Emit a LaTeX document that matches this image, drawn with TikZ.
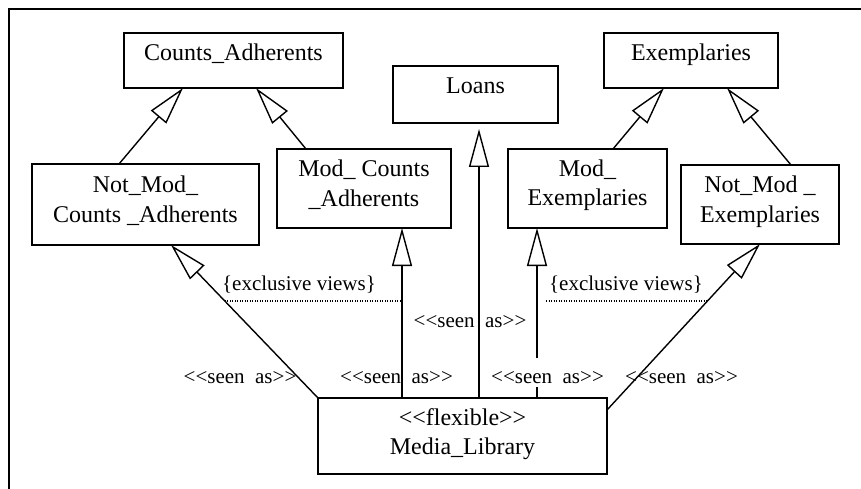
\documentclass[tikz,border=0pt]{standalone}
\usepackage{fontspec}
\setmainfont{Liberation Serif}
\usetikzlibrary{arrows.meta,calc}
% guillemet-like stereotype brackets built from < and > (kept apart so no ligature forms)
\newcommand\stereo[1]{\textless\kern0pt\textless#1\textgreater\kern0pt\textgreater}
\newcommand\twolines[2]{\begin{tabular}[t]{@{}c@{}}#1\\#2\end{tabular}}
\begin{document}
\begin{tikzpicture}[x=1pt,y=-1pt,
  classbox/.style={draw, line width=1.6pt, inner sep=0pt, outer sep=0pt},
  boxtext/.style={font=\fontsize{24}{29}\selectfont, anchor=base, inner sep=0pt},
  tag/.style={font=\fontsize{21}{25}\selectfont, anchor=base, inner sep=0pt},
  gen/.style={line width=1.4pt, -{Triangle[open,length=38pt,width=20pt]}},
  excl/.style={line width=1.3pt, dash pattern=on 1.1pt off 1.4pt}]
\useasboundingbox (0,0) rectangle (861,489);

% frame
\draw[line width=1.6pt] (9,489) -- (9,9) -- (861,9);

% classes
\node[classbox, minimum width=219pt, minimum height=55pt] (ca)    at (233.5,60.5) {};
\node[classbox, minimum width=165pt, minimum height=57pt] (loans) at (475.5,94.5) {};
\node[classbox, minimum width=174pt, minimum height=55pt] (ex)    at (691,60.5) {};
\node[classbox, minimum width=227pt, minimum height=81pt] (nmca)  at (145.5,204.5) {};
\node[classbox, minimum width=174pt, minimum height=79pt] (mca)   at (364,188.5) {};
\node[classbox, minimum width=159pt, minimum height=79pt] (mex)   at (587.5,188.5) {};
\node[classbox, minimum width=158pt, minimum height=79pt] (nmex)  at (760,204.5) {};
\node[classbox, minimum width=289pt, minimum height=76pt] (ml)    at (462.5,436) {};

% class names
\node[boxtext] (ca-t)    at (233.5,61)  {Counts\_Adherents};
\node[boxtext] (loans-t) at (475.5,94)  {Loans};
\node[boxtext] (ex-t)    at (691,61)    {Exemplaries};
\node[boxtext] (nmca-t)  at (145.5,193) {\twolines{Not\_Mod\_}{Counts \_Adherents}};
\node[boxtext] (mca-t)   at (364,177)   {\twolines{Mod\_ Counts}{\_Adherents}};
\node[boxtext] (mex-t)   at (587.5,176) {\twolines{Mod\_}{Exemplaries}};
\node[boxtext] (nmex-t)  at (760,193)   {\twolines{Not\_Mod \_}{Exemplaries}};
\node[boxtext] (ml-t)    at (462.5,425) {\twolines{\stereo{flexible}}{Media\_Library}};

% connector end points
\coordinate (s-mca)  at ([xshift=-60.5pt]ml.north);
\coordinate (s-loan) at ([xshift=16.5pt]ml.north);
\coordinate (s-mex)  at ([xshift=74.5pt]ml.north);
\coordinate (s-nmex) at ([yshift=-12pt]ml.north east);

% specialisations
\draw[gen] ([xshift=-26.5pt]nmca.north) -- ([xshift=-50.5pt]ca.south);
\draw[gen] ([xshift=-58pt]mca.north)    -- ([xshift=22.5pt]ca.south);
\draw[gen] ([xshift=25.5pt]mex.north)   -- ([xshift=-27pt]ex.south);
\draw[gen] ([xshift=31pt]nmex.north)    -- ([xshift=36pt]ex.south);

% views of the flexible class
\draw[gen] (ml.north west) -- coordinate[pos=0.634] (xl) ([xshift=25.5pt]nmca.south);
\draw[gen] (s-mca)  -- ([xshift=38pt]mca.south);
\draw[gen] (s-loan) -- ([xshift=3.5pt,yshift=-6pt]loans.south);
\draw[gen] (s-mex)  -- ([xshift=-50.5pt]mex.south);
\draw[gen] (s-nmex) -- coordinate[pos=0.657] (xr) (nmex.south);

% exclusive-view constraints
\draw[excl] (xl) -- (xl -| s-mca);
\draw[excl] ($(xr -| s-mex)+(9,0)$) -- (xr);
\node[tag] (excl-l) at (299,290) {\{exclusive views\}};
\node[tag] (excl-r) at (626,290) {\{exclusive views\}};

% stereotypes on the connectors
\node[tag] (seen-1) at (240,383)   {\stereo{seen\ \ as}};
\node[tag] (seen-2) at (396.5,383) {\stereo{seen\ \ as}};
\node[tag] (seen-3) at (470,327)   {\stereo{seen\ \ as}};
\node[tag, fill=white, text height=25pt, text depth=4pt] (seen-4) at (547.5,383) {\stereo{seen\ \ as}};
\node[tag] (seen-5) at (681.5,383) {\stereo{seen\ \ as}};
\end{tikzpicture}
\end{document}
